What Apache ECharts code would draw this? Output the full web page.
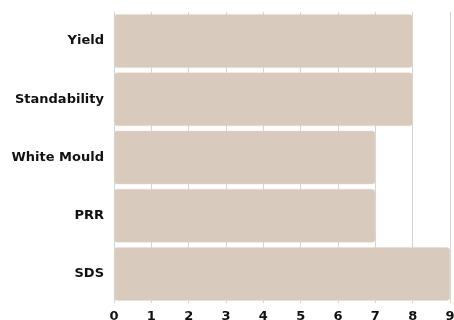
<!DOCTYPE html>
<html><head><meta charset="utf-8">
<script src="https://cdn.jsdelivr.net/npm/echarts@6/dist/echarts.min.js"></script>
<style>html,body{margin:0;padding:0;background:#fff}#c{width:454px;height:320px}</style>
</head><body><div id="c"></div>
<script>
const categories = ["Yield", "Standability", "White Mould", "PRR", "SDS"];
const values = [8, 8, 7, 7, 9];
const xTicks = [0, 1, 2, 3, 4, 5, 6, 7, 8, 9];

const chart = echarts.init(document.getElementById('c'), null, {renderer: 'canvas'});
chart.setOption({
  animation: false,
  grid: {left: 114, right: 4, top: 12, bottom: 17, containLabel: false, outerBoundsMode: 'none'},
  xAxis: {
    type: 'value', min: xTicks[0], max: xTicks[xTicks.length - 1], interval: 1,
    axisLine: {show: false}, axisTick: {show: false},
    splitLine: {show: true, lineStyle: {color: '#d4d4d4', width: 1}},
    axisLabel: {color: '#111', fontFamily: 'DejaVu Sans', fontWeight: 'bold', fontSize: 13, margin: 7}
  },
  yAxis: {
    type: 'category', data: categories, inverse: true,
    axisLine: {show: true, lineStyle: {color: '#d4d4d4'}}, axisTick: {show: false},
    axisLabel: {color: '#111', fontFamily: 'DejaVu Sans', fontWeight: 'bold', fontSize: 13, margin: 10}
  },
  series: [{
    type: 'bar', data: values, barCategoryGap: '8%',
    itemStyle: {color: '#d8cabd', borderRadius: 3, borderColor: '#e4dad0', borderWidth: 0.5}
  }]
});
</script></body></html>
